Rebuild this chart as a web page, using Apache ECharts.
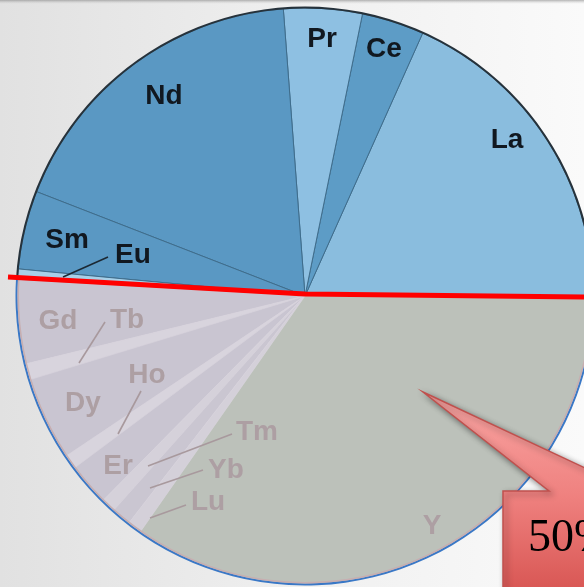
<!DOCTYPE html>
<html>
<head>
<meta charset="utf-8">
<script src="https://cdn.jsdelivr.net/npm/echarts@6/dist/echarts.min.js"></script>
<style>
html, body { margin: 0; padding: 0; overflow: hidden; }
#chart { width: 584px; height: 587px; }
</style>
</head>
<body>
<div id="chart"></div>
<script>
// Rare earth elements, share of the total (percent)
const elements = ['La', 'Ce', 'Pr', 'Nd', 'Sm', 'Eu', 'Gd', 'Tb', 'Dy', 'Ho', 'Er', 'Tm', 'Yb', 'Lu', 'Y'];
const shares   = [18.3, 3.5, 4.4, 17.9, 4.4, 0.6, 4.7, 0.9, 4.7, 0.8, 2.4, 0.8, 1.1, 0.8, 34.7];
// Light rare earths (upper half); the rest are heavy rare earths
const lightGroup = ['La', 'Ce', 'Pr', 'Nd', 'Sm', 'Eu'];
const calloutText = '50%';

// Slice fills
const fills = {
  La: '#8abdde', Ce: '#5d9cc6', Pr: '#8ec0e2', Nd: '#5a98c3', Sm: '#5a98c3', Eu: '#a8d0e8',
  Gd: '#c9c5d1', Tb: '#d8d4dd', Dy: '#c9c5d1', Ho: '#d8d4dd', Er: '#c9c5d1',
  Tm: '#d5d1da', Yb: '#cac6d1', Lu: '#d4d0d9', Y: '#bcc1ba'
};

// Label anchors (pixel) and leader lines for the thin slices
const labelAt = {
  La: [507, 140], Ce: [384, 49], Pr: [322, 39], Nd: [164, 96], Sm: [67, 240], Eu: [133, 255],
  Gd: [58, 321], Tb: [127, 320], Dy: [83, 403], Ho: [147, 375], Er: [118, 466],
  Tm: [257, 432], Yb: [226, 470], Lu: [208, 502], Y: [432, 526]
};
const leaders = {
  Eu: [[108, 257], [63, 277]],
  Tb: [[105, 322], [79, 363]],
  Ho: [[141, 391], [118, 434]],
  Tm: [[232, 434], [148, 466]],
  Yb: [[203, 470], [150, 488]],
  Lu: [[186, 505], [150, 518]]
};

const CENTER = [305, 296];
const R = 288;
const labelFont = '"Liberation Sans", Arial, sans-serif';

const isLight = name => lightGroup.indexOf(name) >= 0;

const pieData = elements.map((name, i) => {
  const light = isLight(name);
  return {
    name: name,
    value: shares[i],
    itemStyle: {
      color: fills[name],
      borderColor: light ? '#3f6d8c' : '#d6d2db',
      borderWidth: light ? 1 : 0.6
    },
    label: {
      color: light ? '#111820' : '#ad9fa3'
    }
  };
});

const lightTotal = elements.reduce((s, n, i) => s + (isLight(n) ? shares[i] : 0), 0);
const heavyTotal = elements.reduce((s, n, i) => s + (isLight(n) ? 0 : shares[i]), 0);

// leader lines from the labels to their thin slices
const leaderGraphics = Object.keys(leaders).map(name => ({
  type: 'polyline',
  shape: { points: leaders[name] },
  style: {
    stroke: isLight(name) ? '#1b2833' : '#a8999d',
    lineWidth: 1.6,
    fill: null
  },
  z: 90
}));

const chart = echarts.init(document.getElementById('chart'), null, { renderer: 'canvas' });

chart.setOption({
  animation: false,
  backgroundColor: {
    type: 'linear', x: 0, y: 0, x2: 1, y2: 0,
    colorStops: [
      { offset: 0, color: '#e1e1e1' },
      { offset: 0.5, color: '#efefef' },
      { offset: 1, color: '#fafafa' }
    ]
  },
  series: [
    {
      type: 'pie',
      center: CENTER,
      radius: R,
      startAngle: 0,
      clockwise: false,
      avoidLabelOverlap: false,
      silent: true,
      data: pieData,
      label: {
        show: true,
        position: 'outside',
        fontFamily: labelFont,
        fontWeight: 'bold',
        fontSize: 28
      },
      labelLine: { show: false },
      labelLayout: function (params) {
        const pos = labelAt[elements[params.dataIndex]];
        return { x: pos[0], y: pos[1], align: 'center', verticalAlign: 'middle' };
      }
    },
    {
      // thin rim round the pie: dark over the light group, blue over the heavy group
      type: 'pie',
      center: CENTER,
      radius: [R - 0.5, R + 1.5],
      startAngle: 0,
      clockwise: false,
      silent: true,
      label: { show: false },
      labelLine: { show: false },
      data: [
        { name: 'light', value: lightTotal, itemStyle: { color: '#26323b' } },
        { name: 'heavy', value: heavyTotal, itemStyle: { color: '#3a78c6' } }
      ]
    },
    {
      // pinkish inner edge of the heavy half
      type: 'pie',
      center: CENTER,
      radius: [R - 2, R - 0.5],
      startAngle: 0,
      clockwise: false,
      silent: true,
      label: { show: false },
      labelLine: { show: false },
      data: [
        { name: 'light', value: lightTotal, itemStyle: { color: 'rgba(0,0,0,0)' } },
        { name: 'heavy', value: heavyTotal, itemStyle: { color: '#c7aeb0' } }
      ]
    }
  ],
  graphic: leaderGraphics.concat([
    {
      // shadow band along the top edge
      type: 'rect',
      shape: { x: 0, y: 0, width: 584, height: 4 },
      style: {
        fill: {
          type: 'linear', x: 0, y: 0, x2: 0, y2: 1,
          colorStops: [
            { offset: 0, color: 'rgba(120,120,120,0.55)' },
            { offset: 1, color: 'rgba(200,200,200,0)' }
          ]
        }
      },
      z: 100
    },
    {
      // split between the light and heavy groups
      type: 'polyline',
      shape: { points: [[8, 277], [305, 294], [584, 297]] },
      style: { stroke: '#ff0000', lineWidth: 5, fill: null },
      z: 100
    },
    {
      // callout pointing into the Y slice
      type: 'polygon',
      shape: {
        points: [[423, 392], [600, 475], [600, 600], [503, 600], [503, 491], [549, 491]]
      },
      style: {
        fill: {
          type: 'linear', x: 0, y: 0, x2: 0, y2: 1,
          colorStops: [
            { offset: 0, color: '#f9a6a4' },
            { offset: 0.5, color: '#ef817f' },
            { offset: 1, color: '#d6524f' }
          ]
        },
        stroke: '#c0504d',
        lineWidth: 1.5,
        shadowBlur: 6,
        shadowOffsetX: 3,
        shadowOffsetY: 3,
        shadowColor: 'rgba(0,0,0,0.45)'
      },
      z: 101
    },
    {
      type: 'text',
      x: 528,
      y: 562,
      style: {
        text: calloutText,
        font: '46px "Liberation Serif", "DejaVu Serif", serif',
        fill: '#000000',
        verticalAlign: 'bottom'
      },
      z: 102
    }
  ])
});
</script>
</body>
</html>
